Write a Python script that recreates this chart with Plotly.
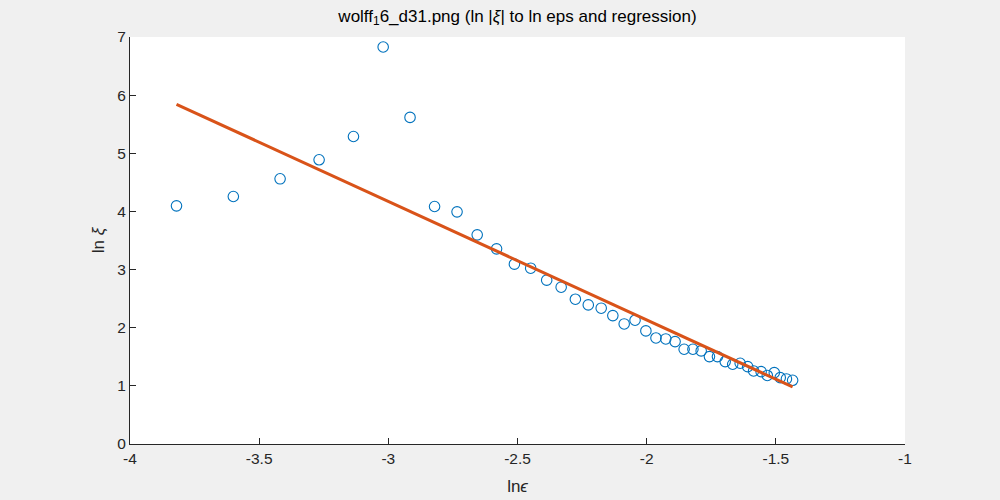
import numpy as np
import plotly.graph_objects as go

ln_eps = [-3.820, -3.600, -3.419, -3.268, -3.135, -3.020, -2.916, -2.821, -2.734, -2.656,
          -2.581, -2.512, -2.449, -2.387, -2.331, -2.276, -2.226, -2.176, -2.131, -2.087,
          -2.045, -2.003, -1.964, -1.926, -1.890, -1.855, -1.821, -1.789, -1.757, -1.726,
          -1.696, -1.667, -1.638, -1.609, -1.586, -1.557, -1.533, -1.506, -1.483, -1.459,
          -1.435]
ln_xi = [4.096, 4.257, 4.561, 4.888, 5.289, 6.828, 5.617, 4.085, 3.993, 3.597,
         3.356, 3.093, 3.024, 2.818, 2.697, 2.490, 2.392, 2.336, 2.208, 2.065,
         2.129, 1.945, 1.824, 1.807, 1.761, 1.630, 1.630, 1.601, 1.503, 1.503,
         1.417, 1.372, 1.389, 1.330, 1.256, 1.244, 1.179, 1.227, 1.141, 1.119,
         1.096]

x_ticks = [-4, -3.5, -3, -2.5, -2, -1.5, -1]
y_ticks = [0, 1, 2, 3, 4, 5, 6, 7]

coef = np.polyfit(ln_eps, ln_xi, 1)
fit_x = [min(ln_eps), max(ln_eps)]
fit_y = list(np.polyval(coef, fit_x))

axis_col = "#262626"
fig = go.Figure()
fig.add_trace(go.Scatter(x=ln_eps, y=ln_xi, mode="markers",
                         marker=dict(symbol="circle-open", size=10.5, color="#0072BD",
                                     line=dict(width=1.1, color="#0072BD")),
                         showlegend=False))
fig.add_trace(go.Scatter(x=fit_x, y=fit_y, mode="lines",
                         line=dict(color="#D95319", width=3), showlegend=False))

fig.update_layout(
    width=1000, height=500,
    paper_bgcolor="#f0f0f0", plot_bgcolor="white",
    margin=dict(l=130, r=95, t=37, b=56),
    font=dict(family="Liberation Sans, Arial, sans-serif", size=15.5, color=axis_col),
    title=dict(text="wolff<sub>1</sub>6_d31.png (ln |<i>ξ</i>| to ln eps and regression)",
               x=0.5175, xanchor="center", y=0.98, yanchor="top",
               font=dict(size=17, color="#000000")),
    xaxis=dict(range=[-4, -1], tickvals=x_ticks, ticktext=[str(t) for t in x_ticks],
               ticks="inside", ticklen=6, tickcolor=axis_col, showline=True,
               linecolor=axis_col, linewidth=1, showgrid=False, zeroline=False,
               automargin=False,
               title=dict(text="ln<i>ϵ</i>", standoff=14, font=dict(size=17))),
    yaxis=dict(range=[0, 7], tickvals=y_ticks, ticks="inside", ticklen=6,
               tickcolor=axis_col, showline=True, linecolor=axis_col, linewidth=1,
               showgrid=False, zeroline=False, automargin=False,
               title=dict(text="ln <i>ξ</i>", standoff=8, font=dict(size=17))),
)
fig.write_html("out.html", config={"displayModeBar": False},
               post_script="document.body.style.margin='0';document.body.style.background='#f0f0f0';")
